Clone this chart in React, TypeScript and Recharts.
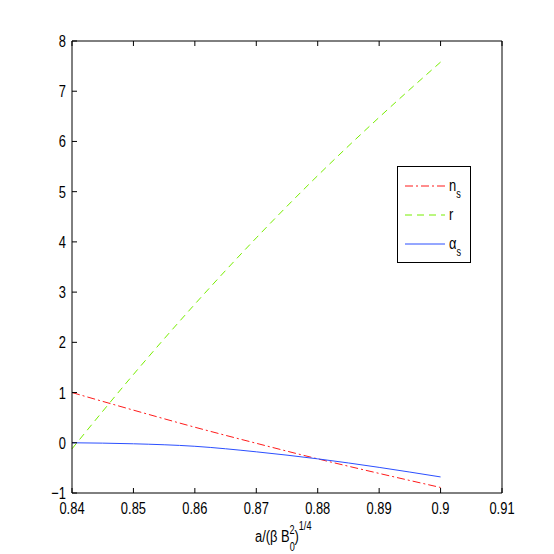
import React from 'react';
import { LineChart, Line, XAxis, YAxis, Legend } from 'recharts';

const xValues = [0.84, 0.85, 0.86, 0.87, 0.88, 0.89, 0.9];
const nsValues = [1.0, 0.65, 0.31, -0.01, -0.32, -0.61, -0.89];
const rValues = [-0.12, 1.36, 2.76, 4.08, 5.32, 6.48, 7.58];
const alphaValues = [0.0, -0.02, -0.07, -0.18, -0.32, -0.49, -0.68];

const xTicks = [0.84, 0.85, 0.86, 0.87, 0.88, 0.89, 0.9, 0.91];
const yTicks = [-1, 0, 1, 2, 3, 4, 5, 6, 7, 8];

const data = xValues.map((x, i) => ({
  x,
  ns: nsValues[i],
  r: rValues[i],
  alpha: alphaValues[i],
}));

const FONT = '"Liberation Sans", Arial, Helvetica, sans-serif';
const SQUEEZE = 0.76;

const series = [
  { key: 'ns', color: '#ff1a1a', dash: '8 3 2 3', label: 'n', sub: 's' },
  { key: 'r', color: '#77ee00', dash: '7 5', label: 'r', sub: '' },
  { key: 'alpha', color: '#2b4fff', dash: '', label: 'α', sub: 's' },
];

function BottomTick({ x, y, payload }: any) {
  return (
    <g>
      <line x1={x} y1={y} x2={x} y2={y - 5} stroke="#000" />
      <text
        transform={`translate(${x},${y + 21}) scale(${SQUEEZE},1)`}
        textAnchor="middle"
        fontSize={17}
        fontFamily={FONT}
        fill="#000"
      >
        {String(payload.value)}
      </text>
    </g>
  );
}

function TopTick({ x, y }: any) {
  return <line x1={x} y1={y} x2={x} y2={y + 5} stroke="#000" />;
}

function LeftTick({ x, y, payload }: any) {
  return (
    <g>
      <line x1={x} y1={y} x2={x + 5} y2={y} stroke="#000" />
      <text
        transform={`translate(${x - 6},${y + 6}) scale(${SQUEEZE},1)`}
        textAnchor="end"
        fontSize={17}
        fontFamily={FONT}
        fill="#000"
      >
        {payload.value < 0 ? '\u2212' + Math.abs(payload.value) : String(payload.value)}
      </text>
    </g>
  );
}

function RightTick({ x, y }: any) {
  return <line x1={x} y1={y} x2={x - 5} y2={y} stroke="#000" />;
}

function XLabel({ viewBox }: any) {
  const cx = viewBox.x + viewBox.width / 2;
  const base = viewBox.y + 49;
  return (
    <text
      transform={`translate(${cx - 32},${base}) scale(${SQUEEZE},1)`}
      fontSize={17}
      fontFamily={FONT}
      fill="#000"
    >
      <tspan>a/(β B</tspan>
      <tspan fontSize={12} dy={9}>0</tspan>
      <tspan fontSize={12} dx={-7} dy={-17}>2</tspan>
      <tspan fontSize={17} dy={8}>)</tspan>
      <tspan fontSize={12} dy={-12}>1/4</tspan>
    </text>
  );
}

function LegendBox() {
  return (
    <div style={{ width: 72, height: 95, border: '1px solid #000', background: '#fff' }}>
      <svg width={72} height={95}>
        {series.map((s, i) => {
          const y = 19 + i * 29;
          return (
            <g key={s.key}>
              <line x1={7} y1={y} x2={47} y2={y} stroke={s.color} strokeDasharray={s.dash || undefined} />
              <text
                transform={`translate(51,${y + 5}) scale(${SQUEEZE},1)`}
                fontSize={17}
                fontFamily={FONT}
                fill="#000"
              >
                <tspan>{s.label}</tspan>
                {s.sub ? (
                  <tspan fontSize={12} dy={7}>
                    {s.sub}
                  </tspan>
                ) : null}
              </text>
            </g>
          );
        })}
      </svg>
    </div>
  );
}

export default function App() {
  return (
    <div style={{ position: 'absolute', left: 0, top: 0, width: 554, height: 554, background: '#fff' }}>
      <LineChart width={554} height={554} data={data} margin={{ top: 40, right: 51, bottom: 0, left: 0 }}>
        <XAxis
          dataKey="x"
          type="number"
          domain={[0.84, 0.91]}
          ticks={xTicks}
          interval={0}
          height={61}
          tickSize={0}
          tickMargin={0}
          tick={<BottomTick />}
          axisLine={{ stroke: '#000' }}
          tickLine={false}
          label={<XLabel />}
        />
        <XAxis
          xAxisId="top"
          orientation="top"
          dataKey="x"
          type="number"
          domain={[0.84, 0.91]}
          ticks={xTicks}
          interval={0}
          height={1}
          tickSize={0}
          tickMargin={0}
          tick={<TopTick />}
          axisLine={{ stroke: '#000' }}
          tickLine={false}
        />
        <YAxis
          type="number"
          domain={[-1, 8]}
          ticks={yTicks}
          interval={0}
          width={72}
          tickSize={0}
          tickMargin={0}
          tick={<LeftTick />}
          axisLine={{ stroke: '#000' }}
          tickLine={false}
        />
        <YAxis
          yAxisId="right"
          orientation="right"
          type="number"
          domain={[-1, 8]}
          ticks={yTicks}
          interval={0}
          width={1}
          tickSize={0}
          tickMargin={0}
          tick={<RightTick />}
          axisLine={{ stroke: '#000' }}
          tickLine={false}
        />
        {series.map((s) => (
          <Line
            key={s.key}
            dataKey={s.key}
            type="monotone"
            stroke={s.color}
            strokeWidth={1}
            strokeDasharray={s.dash || undefined}
            dot={false}
            activeDot={false}
            isAnimationActive={false}
          />
        ))}
        <Legend
          layout="horizontal"
          align="center"
          verticalAlign="middle"
          content={<LegendBox />}
          wrapperStyle={{ left: 397, top: 166, width: 74, height: 97 }}
        />
      </LineChart>
    </div>
  );
}
